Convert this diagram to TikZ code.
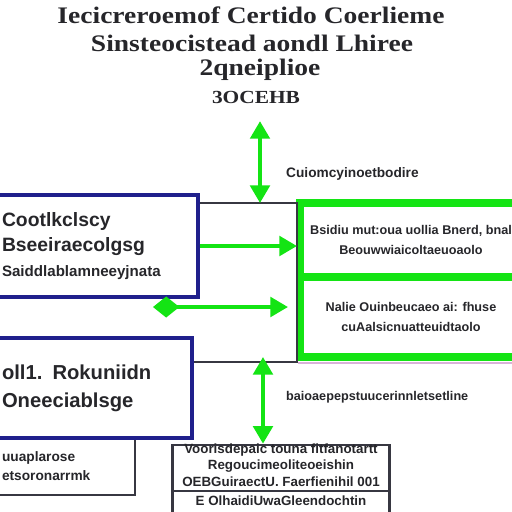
\documentclass[tikz,border=0pt]{standalone}
\usepackage{fontspec}
\setmainfont{Liberation Serif}
\setsansfont{Liberation Sans}
\newfontfamily\headfont[FakeStretch=1.16]{Liberation Serif}
\usetikzlibrary{positioning, arrows.meta, calc}
\definecolor{lime}{RGB}{20,228,20}
\definecolor{navyedge}{RGB}{32,32,140}
\definecolor{darkedge}{RGB}{55,55,65}
\definecolor{inktext}{RGB}{38,38,42}

\begin{document}
\begin{tikzpicture}[
    x=0.02cm, y=-0.02cm,
    every node/.style={text=inktext},
    title/.style={font=\headfont\bfseries\fontsize{13.5}{16}\selectfont},
    navybox/.style={draw=navyedge, line width=2pt, fill=white, align=left,
        font=\sffamily\bfseries\fontsize{11}{14}\selectfont},
    greybox/.style={draw=darkedge, line width=1.5pt, fill=white},
    greenbox/.style={draw=lime, line width=4.5pt, align=center,
        font=\sffamily\bfseries\fontsize{7.2}{11}\selectfont},
    flow/.style={draw=lime, line width=2.3pt,
        {Triangle[length=10pt,width=11pt]}-{Triangle[length=10pt,width=11pt]}},
    feed/.style={draw=lime, line width=2.3pt, -{Triangle[length=10pt,width=11pt]}},
    link/.style={draw=darkedge, line width=1.3pt},
    note/.style={anchor=west, font=\sffamily\bfseries\fontsize{7.8}{9}\selectfont}
]
    \useasboundingbox[fill=white] (0,0) rectangle (512,512);

    % heading
    \node[title] (head1) at (251,15) {Iecicreroemof Certido Coerlieme};
    \node[title] (head2) at (252,43) {Sinsteocistead aondl Lhiree};
    \node[title] (head3) at (260,70) {2qneiplioe};
    \node[title, font=\headfont\bfseries\fontsize{10.5}{13}\selectfont] (head4) at (256,97) {3OCEHB};

    % green blocks on the right
    \node[greenbox, minimum width=4.44cm, minimum height=1.48cm] (greenA) at (411,240)
        {Bsidiu mut:oua uollia Bnerd, bnal\\ Beouwwiaicoltaeuoaolo};
    \node[greenbox, minimum width=4.44cm, minimum height=1.6cm] (greenB) at (411,317)
        {Nalie Ouinbeucaeo ai: fhuse\\ cuAalsicnuatteuidtaolo};

    % blocks on the left
    \node[greybox, minimum width=2.86cm, minimum height=1.16cm, inner xsep=0.2cm,
        text width=2.46cm, align=left, font=\sffamily\bfseries\fontsize{7.8}{11}\selectfont]
        (box3) at (63.5,466) {uuaplarose\\ etsoronarrmk};
    \node[navybox, minimum width=4.12cm, minimum height=2.04cm, inner xsep=0.2cm,
        text width=3.72cm] (box1) at (95,246)
        {Cootlkclscy\\ Bseeiraecolgsg\\ {\fontsize{8.6}{14}\selectfont Saiddlablamneeyjnata}};
    \node[navybox, minimum width=4cm, minimum height=2cm, inner xsep=0.2cm,
        text width=3.6cm, font=\sffamily\bfseries\fontsize{11.5}{16}\selectfont]
        (box2) at (92,388) {oll1. Rokuniidn\\ Oneeciablsge};

    % sheet at the bottom
    \node[greybox, minimum width=4.34cm, minimum height=1.8cm] (sheet) at (281,490) {};
    \node[anchor=north, align=center, inner sep=0pt,
        font=\sffamily\bfseries\fontsize{7.6}{9.6}\selectfont]
        (sheettext) at (281,443)
        {Voorisdepaic touna fitfanotartt\\ Regoucimeoliteoeishin\\
         OEBGuiraectU. Faerfienihil 001\\[1pt] E OlhaidiUwaGleendochtin};
    \draw[darkedge, line width=0.8pt] (sheet.west |- 0,491) -- (sheet.east |- 0,491);

    % connectors
    \coordinate (junction) at (260,203);
    \coordinate (nw) at (297,203);
    \coordinate (sw) at (297,362);
    \coordinate (split) at (153,307);
    \coordinate (drop) at (263,357);
    \draw[link] (box1.east |- nw) -- (nw) -- (sw) -- (box2.east |- sw);
    \draw[flow, shorten <=1pt] ($(head4.south)+(4,10)$) -- (junction);
    \draw[feed] (box1.east) -- (box1.east -| nw);
    \draw[draw=lime, line width=2.3pt,
        {Diamond[length=15pt,width=12pt]}-{Triangle[length=10pt,width=11pt]}]
        (split) -- ($(split -| nw)+(-9,0)$);
    \draw[flow] (drop) -- (drop |- sheet.north) ;
    \draw[violet!30, line width=1pt] ($(greenB.south west)+(2,2)$) -- ($(greenB.south east)+(0,2)$);

    % side notes
    \node[note] (noteA) at (280,174) {Cuiomcyinoetbodire};
    \node[note, font=\sffamily\bfseries\fontsize{7.2}{9}\selectfont] (noteB) at (280,397)
        {baioaepepstuucerinnletsetline};
\end{tikzpicture}
\end{document}
